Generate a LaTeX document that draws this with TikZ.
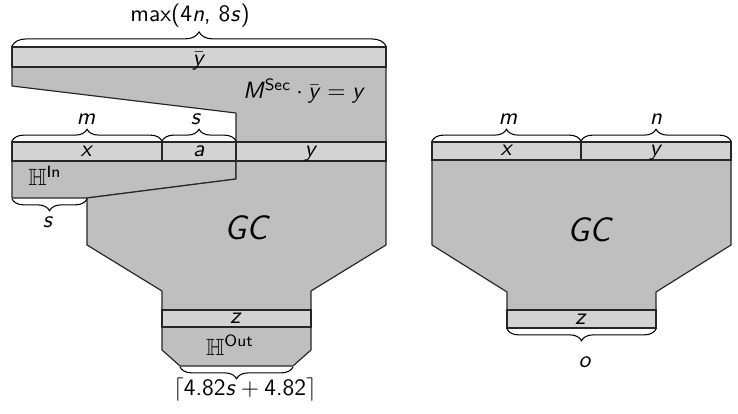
\documentclass[tikz,border=0pt]{standalone}
\usepackage{amsmath}
\usepackage{amssymb}
\usetikzlibrary{decorations.pathreplacing}
\definecolor{band-color}{RGB}{211,211,211}
\definecolor{block-color}{RGB}{191,191,191}
\newcommand{\vr}[1]{\textsl{#1}}
\newcommand{\ybr}{$\bar{\mbox{\vr{y}}}$}

\begin{document}
\begin{tikzpicture}[x=0.4255pt, y=-0.4255pt, font=\sffamily,
    band/.style={draw=black!85, fill=band-color, line width=0.5pt},
    block/.style={draw=black!85, fill=block-color, line width=0.5pt, line join=round},
    curly/.style={decorate, decoration={brace, amplitude=#1}, line width=0.45pt},
    curly/.default=5pt,
    bandlbl/.style={anchor=base, inner sep=0pt},
    lbl/.style={inner sep=0pt},
    biglbl/.style={inner sep=0pt, font=\Large\sffamily\slshape}]

    \useasboundingbox (0,0) rectangle (738,414);

    % Left circuit: secret mixing block and its input band
    \draw[block] (12,67) -- (386,67) -- (386,142) -- (236,142) -- (236,113) -- (12,86) -- cycle;
    \draw[band] (12,47) rectangle (386,67);
    \node[bandlbl] (ybar) at (199,66) {\ybr};
    \node[lbl] (msec) at (304,91) {\vr{M}\textsuperscript{Sec}${}\cdot{}$\ybr${}={}$\vr{y}};

    % Left circuit: input hash and garbled circuit body
    \draw[block] (12,161) -- (236,161) -- (236,179) -- (87,198) -- (12,198) -- cycle;
    \draw[block] (87,198) -- (236,179) -- (236,161) -- (386,161) -- (386,245) -- (311,291)
        -- (311,310) -- (162,310) -- (162,291) -- (87,245) -- cycle;
    \draw[block] (162,327) -- (311,327) -- (311,350) -- (293,366) -- (180,366) -- (162,350) -- cycle;

    % Left circuit: wire bands
    \draw[band] (12,142) rectangle (162,161);
    \draw[band] (162,142) rectangle (236,161);
    \draw[band] (236,142) rectangle (386,161);
    \draw[band] (162,310) rectangle (311,327);
    \node[bandlbl] (xl) at (87,157) {\vr{x}};
    \node[bandlbl] (al) at (199,157) {\vr{a}};
    \node[bandlbl] (yl) at (311,157) {\vr{y}};
    \node[bandlbl] (zl) at (236,323) {\vr{z}};
    \node[lbl] (hin) at (45,176) {$\mathbb{H}$\textsuperscript{In}};
    \node[biglbl] (gcl) at (246,228) {GC};
    \node[lbl] (hout) at (230,345) {$\mathbb{H}$\textsuperscript{Out}};

    % Left circuit: size braces
    \draw[curly=6pt] (12,46) -- (386,46);
    \node[lbl] (lmax) at (190,16) {max(4\vr{n}, 8\vr{s})};
    \draw[curly] (12,141) -- (162,141);
    \draw[curly] (162,141) -- (236,141);
    \node[lbl] (lm) at (86,119) {\vr{m}};
    \node[lbl] (ls) at (196,119) {\vr{s}};
    \draw[curly] (87,199) -- (12,199);
    \node[lbl] (lsb) at (48,222) {\vr{s}};
    \draw[curly] (293,367) -- (180,367);
    \node[lbl] (lceil) at (245,390) {$\lceil$4.82\vr{s}${}+{}$4.82$\rceil$};

    % Right circuit: plain garbled circuit
    \draw[block] (432,160) -- (731,160) -- (731,245) -- (656,292) -- (656,310) -- (507,310)
        -- (507,292) -- (432,245) -- cycle;
    \draw[band] (432,142) rectangle (581,160);
    \draw[band] (581,142) rectangle (731,160);
    \draw[band] (507,310) rectangle (656,328);
    \node[bandlbl] (xr) at (507,156) {\vr{x}};
    \node[bandlbl] (yr) at (656,156) {\vr{y}};
    \node[bandlbl] (zr) at (581,324) {\vr{z}};
    \node[biglbl] (gcr) at (589,230) {GC};

    % Right circuit: size braces
    \draw[curly] (432,141) -- (581,141);
    \draw[curly] (581,141) -- (731,141);
    \node[lbl] (lmr) at (508,119) {\vr{m}};
    \node[lbl] (lnr) at (656,119) {\vr{n}};
    \draw[curly] (656,329) -- (507,329);
    \node[lbl] (lo) at (585,362) {\vr{o}};
\end{tikzpicture}
\end{document}
